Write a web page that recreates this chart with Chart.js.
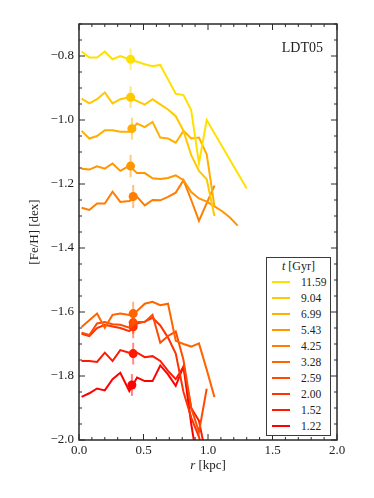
<!DOCTYPE html>
<html>
<head>
<meta charset="utf-8">
<script src="https://cdn.jsdelivr.net/npm/chart.js@4.4.1/dist/chart.umd.min.js"></script>
<style>
  body { margin: 0; background: #fff; overflow: hidden; }
  #wrap { position: relative; width: 374px; height: 498px; }
  #legend {
    position: absolute; left: 266px; top: 257px; width: 65px; height: 179px;
    border: 1.5px solid #3a3a3a; box-sizing: border-box; background: #fff;
    font-family: 'Liberation Serif', serif; font-size: 11.5px; color: #222;
  }
  #legend .ttl { text-align: center; height: 16px; line-height: 17px; font-size: 12px; }
  #legend .row { position: relative; height: 16px; }
  #legend .sw { position: absolute; left: 4.5px; top: 7px; width: 18px; height: 2px; }
  #legend .lb { position: absolute; left: 34px; top: 0; line-height: 16px; }
</style>
</head>
<body>
<div id="wrap">
  <canvas id="chart" width="374" height="498"></canvas>
  <div id="legend"></div>
</div>
<script>
// ---------- DATA ----------

// radial bins (kpc)
const R = [0.02, 0.08, 0.14, 0.20, 0.26, 0.32, 0.39, 0.45, 0.51, 0.57, 0.63,
           0.69, 0.75, 0.81, 0.87, 0.93, 0.99, 1.05, 1.11, 1.17, 1.23, 1.30];

// snapshot times (Gyr)
const T_LABELS = ['11.59', '9.04', '6.99', '5.43', '4.25', '3.28', '2.59', '2.00', '1.52', '1.22'];

// [Fe/H] profiles, one per snapshot
const FEH_1159 = [-0.786, -0.805, -0.805, -0.786, -0.810, -0.800, -0.810, -0.818, -0.826, -0.832, -0.828,
                  -0.873, -0.918, -0.922, -0.970, -1.135, -1.000, null, null, null, null, -1.214];
const FEH_904  = [-0.933, -0.948, -0.935, -0.914, -0.948, -0.935, -0.929, -0.941, -0.952, -0.935, -0.951,
                  -0.967, -0.988, -1.034, -1.110, -1.159, -1.185, -1.300];
const FEH_699  = [-1.034, -1.058, -1.050, -1.032, -1.032, -1.037, -1.037, -1.011, -1.022, -1.006, -1.055,
                  -1.058, -1.071, -1.034, -1.058, -1.055, -1.107, -1.270];
const FEH_543  = [-1.152, -1.155, -1.145, -1.152, -1.136, -1.159, -1.143, -1.166, -1.166, -1.182, -1.184,
                  -1.181, -1.173, -1.188, -1.225, -1.245, -1.255, -1.270, -1.285, -1.305, -1.330];
const FEH_425  = [-1.274, -1.281, -1.261, -1.261, -1.224, -1.256, -1.253, -1.240, -1.267, -1.250, -1.251,
                  -1.240, -1.227, -1.188, -1.250, -1.315, -1.260, -1.205];
const FEH_328  = [-1.647, -1.626, -1.605, -1.649, -1.609, -1.605, -1.609, -1.597, -1.574, -1.568, -1.579,
                  -1.574, -1.690, -1.700, -1.708, -1.698, -1.780, -1.866];
const FEH_259  = [-1.665, -1.672, -1.636, -1.631, -1.638, -1.640, -1.649, -1.631, -1.631, -1.609, -1.696,
                  -1.675, -1.661, -1.750, -1.900, -1.975, -1.840];
const FEH_200  = [-1.668, -1.675, -1.650, -1.640, -1.645, -1.650, -1.660, -1.636, -1.630, -1.618, -1.642,
                  -1.680, -1.730, -1.850, -1.930, -1.990, -2.080];
const FEH_152  = [-1.753, -1.753, -1.756, -1.727, -1.753, -1.719, -1.727, -1.727, -1.741, -1.738, -1.753,
                  -1.784, -1.810, -1.771, -1.900, -1.940, -2.060];
const FEH_122  = [-1.865, -1.854, -1.839, -1.845, -1.810, -1.790, -1.847, -1.805, -1.816, -1.816, -1.767,
                  -1.795, -1.831, -1.770, -1.950, -2.100];

// mean point and its error bar per snapshot
const MARK_R   = [0.40, 0.40, 0.41, 0.40, 0.42, 0.42, 0.42, 0.42, 0.42, 0.41];
const MARK_FEH = [-0.810, -0.929, -1.027, -1.144, -1.239, -1.605, -1.633, -1.646, -1.730, -1.828];
const MARK_ERR = [0.034, 0.034, 0.034, 0.035, 0.036, 0.037, 0.036, 0.036, 0.034, 0.034];

// axis ticks
const X_TICKS = [0.0, 0.5, 1.0, 1.5, 2.0];
const Y_TICKS = [-2.0, -1.8, -1.6, -1.4, -1.2, -1.0, -0.8];

// ---------- STYLE ----------

const SERIES = [FEH_1159, FEH_904, FEH_699, FEH_543, FEH_425, FEH_328, FEH_259, FEH_200, FEH_152, FEH_122];
const GREEN = [225, 200, 175, 150, 125, 100, 75, 50, 25, 0];
const COLORS = GREEN.map(g => 'rgb(255,' + g + ',0)');
const COLORS_ERR = GREEN.map(g => 'rgba(255,' + g + ',0,0.5)');
const FONT = 'Liberation Serif';

// ---------- LEGEND (html) ----------

const legend = document.getElementById('legend');
legend.innerHTML = '<div class="ttl"><i>t</i> [Gyr]</div>' +
  T_LABELS.map((t, i) =>
    '<div class="row"><span class="sw" style="background:' + COLORS[i] + '"></span>' +
    '<span class="lb">' + t + '</span></div>').join('');

// ---------- DATASETS ----------

const datasets = [];
SERIES.forEach((vals, i) => {
  datasets.push({
    data: vals.map((v, k) => ({ x: R[k], y: v })),
    borderColor: COLORS[i],
    borderWidth: 2,
    pointRadius: 0,
    spanGaps: true,
    clip: 0
  });
});
MARK_R.forEach((r, i) => {
  datasets.push({
    data: [{ x: r, y: MARK_FEH[i] - MARK_ERR[i] }, { x: r, y: MARK_FEH[i] + MARK_ERR[i] }],
    borderColor: COLORS_ERR[i],
    borderWidth: 2,
    pointRadius: 0
  });
  datasets.push({
    data: [{ x: r, y: MARK_FEH[i] }],
    showLine: false,
    pointRadius: 4.5,
    pointBackgroundColor: COLORS[i],
    pointBorderWidth: 0
  });
});

// frame, inward ticks, x title (italic r) and the run label
const frame = {
  id: 'frame',
  afterDatasetsDraw(chart) {
    const { ctx, chartArea: a, scales: { x, y } } = chart;
    ctx.save();
    ctx.strokeStyle = '#2a2a2a';
    ctx.lineWidth = 1;
    ctx.beginPath();
    for (let i = 0; i <= 20; i++) {
      const px = x.getPixelForValue(i * 0.1);
      const len = i % 5 === 0 ? 6 : 3;
      ctx.moveTo(px, a.bottom); ctx.lineTo(px, a.bottom - len);
      ctx.moveTo(px, a.top); ctx.lineTo(px, a.top + len);
    }
    for (let i = 0; i <= 26; i++) {
      const py = y.getPixelForValue(-2.0 + i * 0.05);
      const len = i % 4 === 0 ? 6 : 3;
      ctx.moveTo(a.left, py); ctx.lineTo(a.left + len, py);
      ctx.moveTo(a.right, py); ctx.lineTo(a.right - len, py);
    }
    ctx.stroke();
    ctx.lineWidth = 1.5;
    ctx.strokeRect(a.left, a.top, a.right - a.left, a.bottom - a.top);

    ctx.fillStyle = '#222';
    ctx.textBaseline = 'middle';
    ctx.font = '14px "' + FONT + '"';
    ctx.textAlign = 'right';
    ctx.fillText('LDT05', a.right - 14, a.top + 24);

    // x axis title
    const italic = 'italic 13px "' + FONT + '"', plain = '13px "' + FONT + '"';
    ctx.font = italic;
    const w1 = ctx.measureText('r').width;
    ctx.font = plain;
    const w2 = ctx.measureText(' [kpc]').width;
    const x0 = (a.left + a.right) / 2 - (w1 + w2) / 2;
    ctx.textAlign = 'left';
    ctx.font = italic;
    ctx.fillText('r', x0, a.bottom + 26);
    ctx.font = plain;
    ctx.fillText(' [kpc]', x0 + w1, a.bottom + 26);
    ctx.restore();
  }
};

const fmt = v => (v < 0 ? '\u2212' : '') + Math.abs(v).toFixed(1);

new Chart(document.getElementById('chart'), {
  type: 'line',
  data: { datasets: datasets },
  options: {
    responsive: false,
    animation: false,
    events: [],
    layout: { padding: { left: 0, right: 37, top: 24, bottom: 0 } },
    plugins: { legend: { display: false }, tooltip: { enabled: false } },
    scales: {
      x: {
        type: 'linear',
        min: 0,
        max: 2.0,
        afterBuildTicks: s => { s.ticks = X_TICKS.map(v => ({ value: v })); },
        afterFit: s => { s.height = 58; },
        grid: { display: false, drawTicks: false },
        border: { display: false },
        ticks: { padding: 3, color: '#222', font: { family: FONT, size: 13 }, callback: fmt, maxRotation: 0 },
        title: { display: false }
      },
      y: {
        type: 'linear',
        min: -2.0,
        max: -0.7,
        afterBuildTicks: s => { s.ticks = Y_TICKS.map(v => ({ value: v })); },
        afterFit: s => { s.width = 79; },
        grid: { display: false, drawTicks: false },
        border: { display: false },
        ticks: { padding: 5, color: '#222', font: { family: FONT, size: 13 }, callback: fmt },
        title: { display: true, text: '[Fe/H] [dex]', color: '#222', font: { family: FONT, size: 13 }, padding: { top: 27, bottom: 0 } }
      }
    }
  },
  plugins: [frame]
});
</script>
</body>
</html>
